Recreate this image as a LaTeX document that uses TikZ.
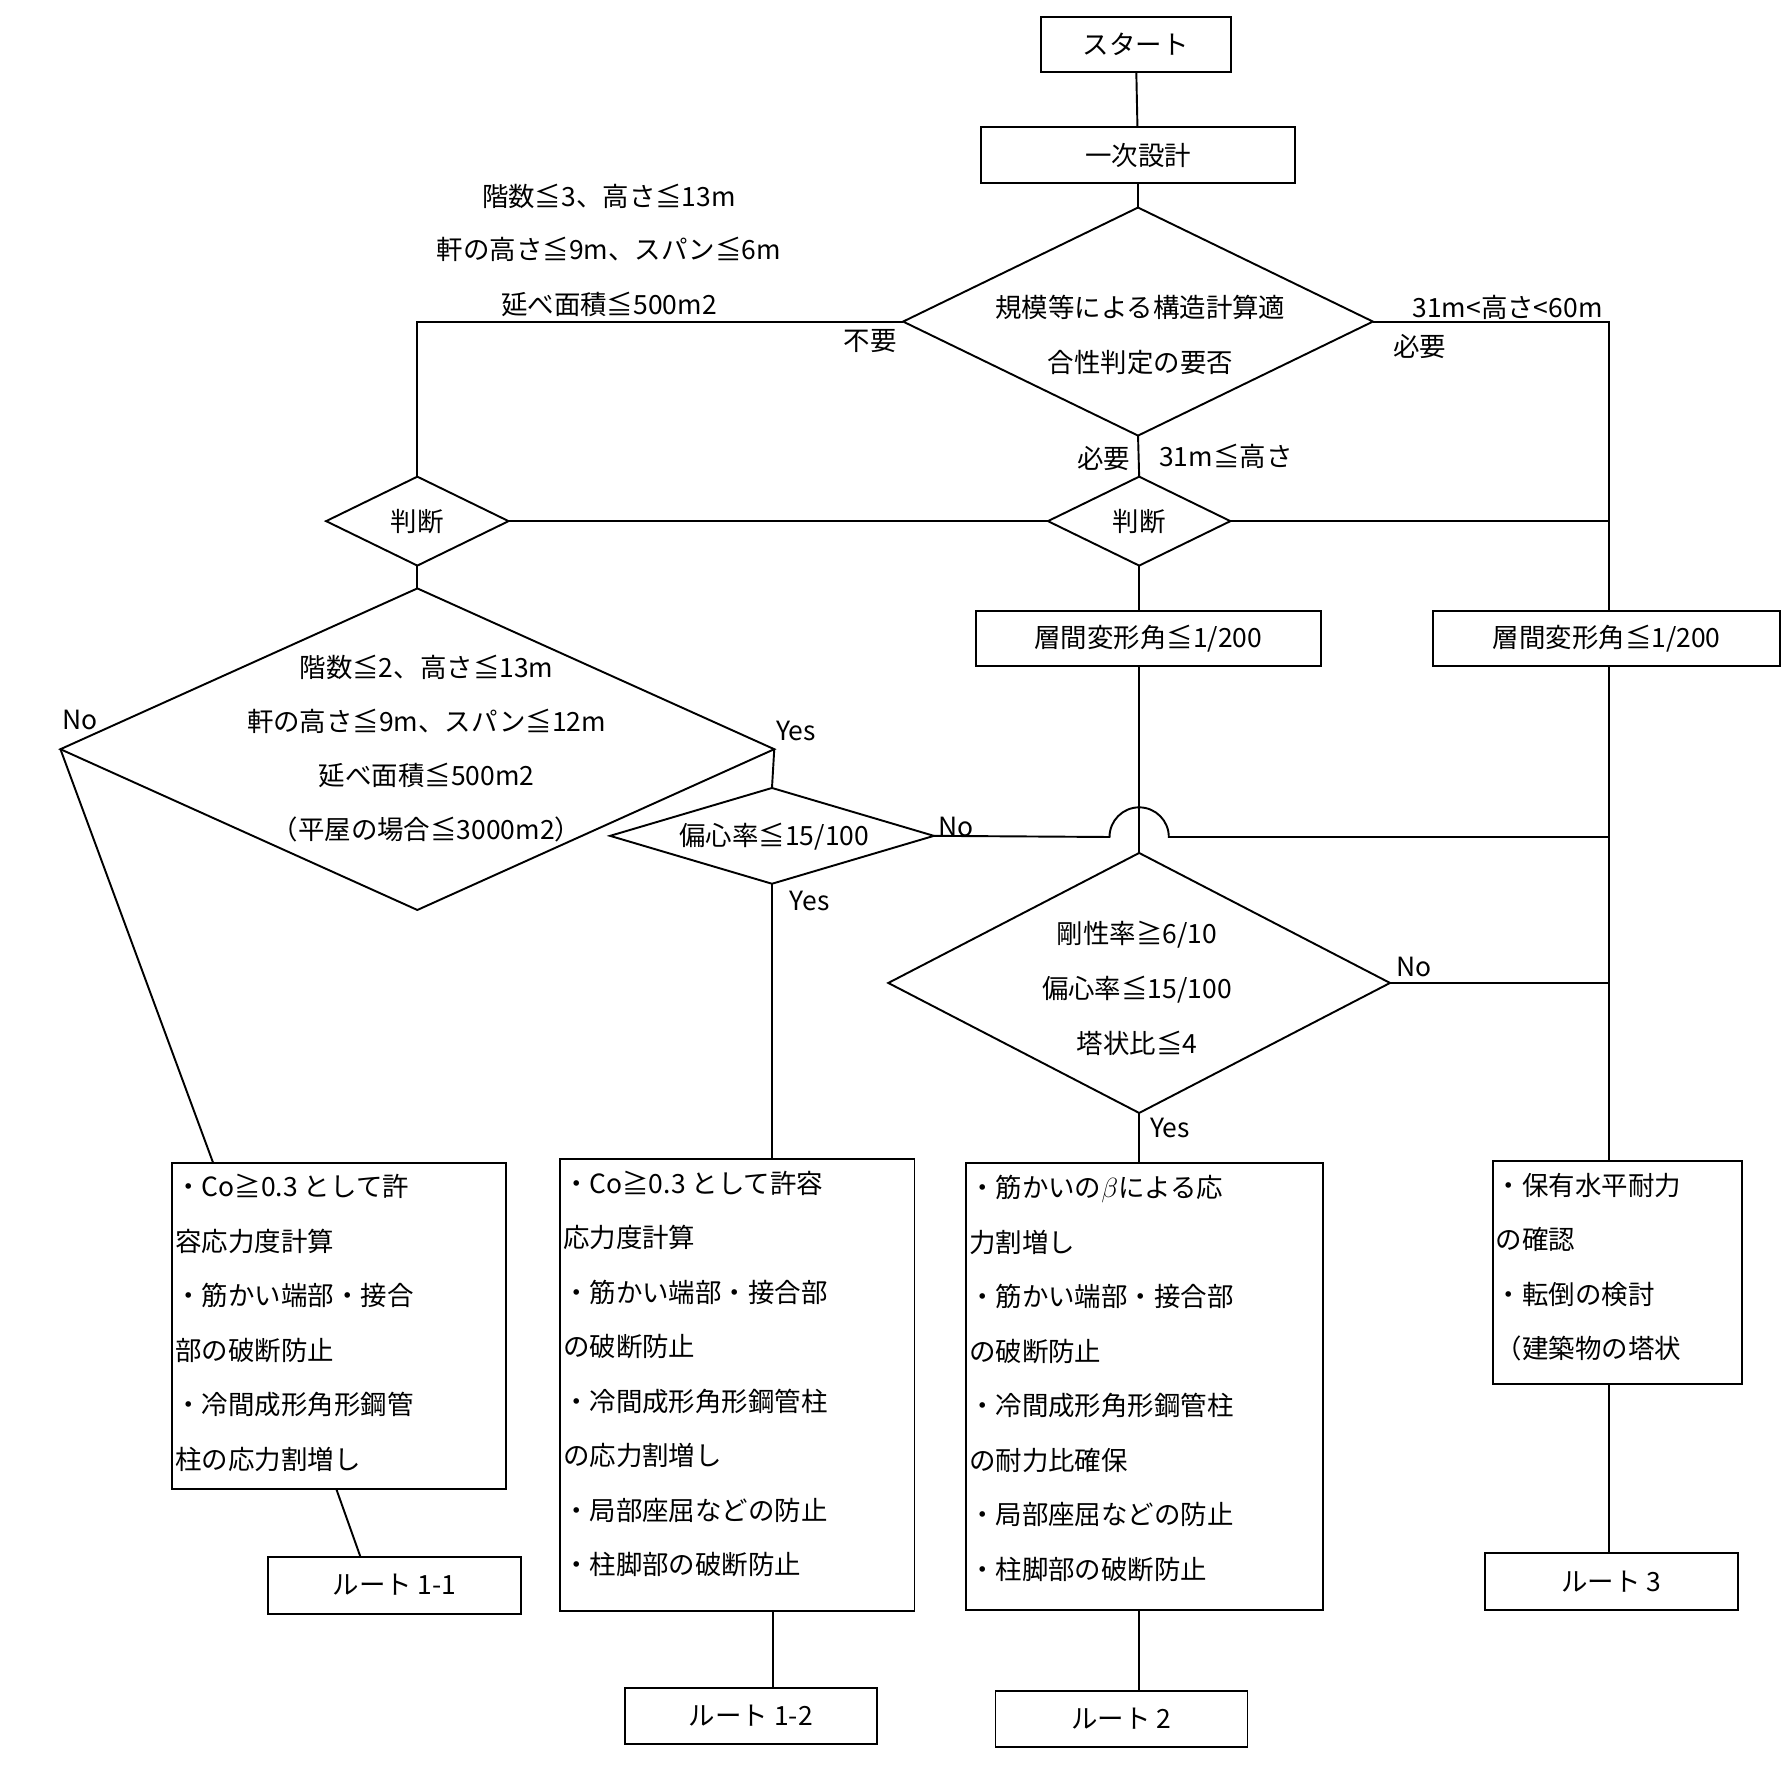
\documentclass[tikz,border=0pt]{standalone}
\usepackage{fontspec}
\setmainfont{Noto Sans CJK JP}
\newcommand\rhomb[5]{% name, cx, cy, half width, half height
  \coordinate (#1-n) at (#2,#3-#5);
  \coordinate (#1-s) at (#2,#3+#5);
  \coordinate (#1-e) at (#2+#4,#3);
  \coordinate (#1-w) at (#2-#4,#3);
  \draw (#1-n) -- (#1-e) -- (#1-s) -- (#1-w) -- cycle;}
\begin{document}
\begin{tikzpicture}[x=0.025cm, y=-0.025cm, line width=1.2pt,
    every node/.style={font=\fontsize{16.5}{34}\selectfont},
    box/.style={draw, line width=1.2pt, inner sep=0pt},
    txt/.style={anchor=north west, align=left, inner sep=0pt},
    lbl/.style={inner sep=0pt},
  ]
  \useasboundingbox (0,0) rectangle (1568,1568);

  % start and first design
  \node[box, minimum width=167*0.025cm, minimum height=48*0.025cm] (start) at (996,39) {スタート};
  \node[box, minimum width=275*0.025cm, minimum height=49*0.025cm] (first) at (998,136) {一次設計};
  \draw (start) -- (first);

  % decisions
  \rhomb{need}{998}{282}{206}{100}
  \node[lbl] (needA) at (1000,270) {規模等による構造計算適};
  \node[lbl] (needB) at (1000,318) {合性判定の要否};
  \draw (first) -- (need-n);
  \rhomb{jL}{366}{457}{80}{39}
  \node[lbl] (jLt) at (366,457) {判断};
  \rhomb{jR}{999}{457}{80}{39}
  \node[lbl] (jRt) at (999,457) {判断};
  \rhomb{big}{366}{657}{313}{141}
  \node[lbl] (bigA) at (374,585) {階数≦2、高さ≦13m};
  \node[lbl] (bigB) at (374,633) {軒の高さ≦9m、スパン≦12m};
  \node[lbl] (bigC) at (374,680) {延べ面積≦500m2};
  \node[lbl] (bigD) at (374,727) {（平屋の場合≦3000m2）};
  \rhomb{ecc}{677}{733}{142}{42}
  \node[lbl] (ecct) at (679,734) {偏心率≦15/100};
  \rhomb{rig}{999}{862}{220}{114}
  \node[lbl] (rigA) at (997,820) {剛性率≧6/10};
  \node[lbl] (rigB) at (997,868) {偏心率≦15/100};
  \node[lbl] (rigC) at (997,915) {塔状比≦4};

  % condition labels
  \node[lbl] (c1) at (534,172) {階数≦3、高さ≦13m};
  \node[lbl] (c2) at (534,219) {軒の高さ≦9m、スパン≦6m};
  \node[lbl] (c3) at (534,267) {延べ面積≦500m2};
  \node[lbl] (fuyo) at (763,299) {不要};
  \node[lbl] (c4) at (1322,270) {31m<高さ<60m};
  \node[lbl] (hitsuA) at (1245,304) {必要};
  \node[lbl] (hitsuB) at (968,402) {必要};
  \node[lbl] (c5) at (1075,400) {31m≦高さ};
  \node[lbl] (no1) at (70,631) {No};
  \node[lbl] (yes1) at (698,641) {Yes};
  \node[lbl] (no2) at (838,725) {No};
  \node[lbl] (yes2) at (710,790) {Yes};
  \node[lbl] (no3) at (1240,848) {No};
  \node[lbl] (yes3) at (1026,989) {Yes};

  % story drift
  \node[box, minimum width=303*0.025cm, minimum height=48*0.025cm] (dA) at (1007,560) {層間変形角≦1/200};
  \node[box, minimum width=304*0.025cm, minimum height=48*0.025cm] (dB) at (1409,560) {層間変形角≦1/200};

  % check boxes
  \node[box, minimum width=293*0.025cm, minimum height=286*0.025cm] (k1) at (297.5,1163) {};
  \node[txt] (k1t) at (153,1029) {・Co≧0.3 として許\\容応力度計算\\・筋かい端部・接合\\部の破断防止\\・冷間成形角形鋼管\\柱の応力割増し};
  \node[box, minimum width=311*0.025cm, minimum height=397*0.025cm] (k2) at (646.5,1214.5) {};
  \node[txt] (k2t) at (493,1026) {・Co≧0.3 として許容\\応力度計算\\・筋かい端部・接合部\\の破断防止\\・冷間成形角形鋼管柱\\の応力割増し\\・局部座屈などの防止\\・柱脚部の破断防止};
  \node[box, minimum width=313*0.025cm, minimum height=392*0.025cm] (k3) at (1003.5,1216) {};
  \node[txt] (k3t) at (849,1030) {・筋かいの$\beta$による応\\力割増し\\・筋かい端部・接合部\\の破断防止\\・冷間成形角形鋼管柱\\の耐力比確保\\・局部座屈などの防止\\・柱脚部の破断防止};
  \node[box, minimum width=219*0.025cm, minimum height=196*0.025cm] (k4) at (1418.5,1116) {};
  \node[txt] (k4t) at (1311,1028) {・保有水平耐力\\の確認\\・転倒の検討\\（建築物の塔状};

  % routes
  \node[box, minimum width=222*0.025cm, minimum height=50*0.025cm] (r11) at (346,1390) {ルート 1-1};
  \node[box, minimum width=221*0.025cm, minimum height=49*0.025cm] (r12) at (658.5,1504.5) {ルート 1-2};
  \node[box, minimum width=221*0.025cm, minimum height=49*0.025cm] (r2) at (983.5,1507.5) {ルート 2};
  \node[box, minimum width=222*0.025cm, minimum height=50*0.025cm] (r3) at (1413,1387) {ルート 3};

  % connectors
  \draw (need-w) -| (jL-n);
  \draw (need-s) -- (jR-n);
  \draw (need-e) -| (dB.north -| 1411,0);
  \draw (jL-e) -- (jR-w);
  \draw (jR-e) -- (1411,457);
  \draw (jR-s) -- (jR-s |- dA.north);
  \draw (jL-s) -- (big-n);
  \draw (big-e) -- (ecc-n);
  \draw (big-w) -- (187,1020);
  \draw (ecc-s) -- (ecc-s |- k2.north);
  \draw (ecc-e) -- (973,734) arc[start angle=180, end angle=360, radius=26] -- (1411,734);
  \draw (dA.south -| rig-n) -- (rig-n);
  \draw (rig-e) -- (1411,862);
  \draw (rig-s) -- (rig-s |- k3.north);
  \draw (1411,584) -- (1411,1018);
  \draw (295,1306) -- (316,1365);
  \draw (678,1413) -- (678,1480);
  \draw (999,1412) -- (999,1483);
  \draw (1411,1214) -- (1411,1362);
\end{tikzpicture}
\end{document}
